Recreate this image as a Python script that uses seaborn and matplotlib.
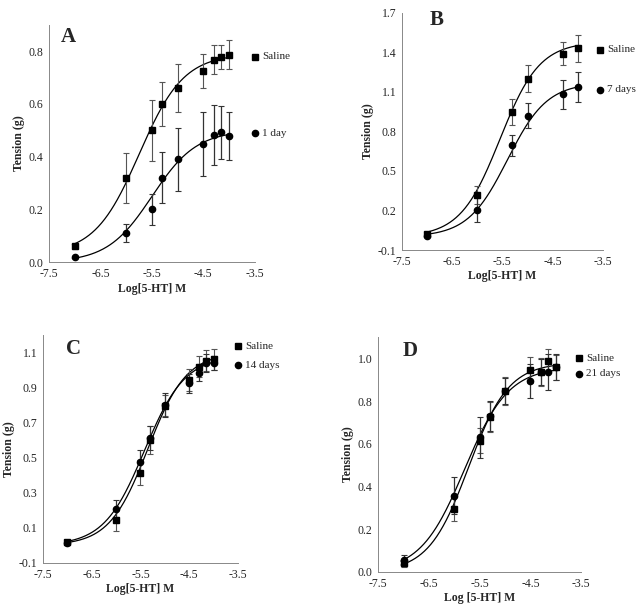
import matplotlib
matplotlib.use("Agg")
import matplotlib.pyplot as plt
import seaborn as sns
import numpy as np
import pandas as pd

# log molar concentrations of 5-HT
log_a = [-7.0, -6.0, -5.5, -5.3, -5.0, -4.5, -4.3, -4.15, -4.0]
log_b = [-7.0, -6.0, -5.3, -5.0, -4.3, -4.0]

# Panel A
a_saline = [0.06, 0.32, 0.50, 0.60, 0.66, 0.725, 0.767, 0.778, 0.786]
a_saline_err = [0.01, 0.095, 0.115, 0.085, 0.09, 0.065, 0.055, 0.045, 0.055]
a_treat = [0.02, 0.11, 0.20, 0.32, 0.39, 0.448, 0.483, 0.493, 0.479]
a_treat_err = [0.0, 0.035, 0.06, 0.097, 0.12, 0.12, 0.115, 0.10, 0.09]

# Panel B
b_saline = [0.02, 0.318, 0.947, 1.20, 1.39, 1.43]
b_saline_err = [0.01, 0.07, 0.10, 0.10, 0.09, 0.10]
b_treat = [0.01, 0.204, 0.694, 0.92, 1.08, 1.137]
b_treat_err = [0.01, 0.09, 0.08, 0.095, 0.11, 0.115]

# Panel C
c_saline = [0.018, 0.143, 0.416, 0.60, 0.796, 0.944, 1.02, 1.054, 1.063]
c_saline_err = [0.01, 0.06, 0.07, 0.08, 0.06, 0.065, 0.06, 0.06, 0.06]
c_treat = [0.014, 0.21, 0.477, 0.612, 0.80, 0.925, 0.986, 1.04, 1.043]
c_treat_err = [0.01, 0.05, 0.07, 0.07, 0.07, 0.055, 0.05, 0.05, 0.04]

# Panel D
d_saline = [0.042, 0.294, 0.615, 0.724, 0.846, 0.945, 0.935, 0.99, 0.958]
d_saline_err = [0.02, 0.055, 0.06, 0.07, 0.065, 0.06, 0.065, 0.055, 0.06]
d_treat = [0.055, 0.358, 0.63, 0.732, 0.846, 0.896, 0.935, 0.938, 0.96]
d_treat_err = [0.025, 0.085, 0.095, 0.07, 0.06, 0.08, 0.06, 0.085, 0.06]

# sigmoid fit parameters (bottom, top, logEC50, hill)
fit_a = [(0.03, 0.79, -5.75, 1.0), (0.0, 0.50, -5.5, 1.0)]
fit_b = [(0.0, 1.48, -5.55, 1.1), (0.0, 1.17, -5.4, 1.1)]
fit_c = [(0.0, 1.10, -5.35, 1.1), (0.0, 1.08, -5.42, 1.05)]
fit_d = [(0.0, 0.98, -5.72, 1.1), (0.0, 0.96, -5.8, 1.0)]

treat_labels = ["1 day", "7 days", "14 days", "21 days"]

sns.set_style("white")
plt.rcParams["font.family"] = ["Liberation Serif", "DejaVu Serif"]


def hill(x, bottom, top, ec50, slope):
    return bottom + (top - bottom) / (1 + 10 ** ((ec50 - x) * slope))


fig = plt.figure(figsize=(6.4, 6.07), dpi=100)

panels = [
    # letter, rect, x, saline, err, treat, err, fits, ylim, yticks, xlabel,
    # letter pos, legend y (saline, treat), legend x
    ("A", [0.077, 0.568, 0.321, 0.391], log_a, a_saline, a_saline_err, a_treat, a_treat_err,
     fit_a, (0.0, 0.9), [0.0, 0.2, 0.4, 0.6, 0.8], "Log[5-HT] M", (0.055, 0.95), (0.865, 0.544), 1.0),
    ("B", [0.628, 0.588, 0.314, 0.391], log_b, b_saline, b_saline_err, b_treat, b_treat_err,
     fit_b, (-0.1, 1.7), [-0.1, 0.2, 0.5, 0.8, 1.1, 1.4, 1.7], "Log[5-HT] M", (0.14, 0.97), (0.844, 0.675), 0.985),
    ("C", [0.067, 0.0725, 0.305, 0.3755], log_a, c_saline, c_saline_err, c_treat, c_treat_err,
     fit_c, (-0.1, 1.2), [-0.1, 0.1, 0.3, 0.5, 0.7, 0.9, 1.1], "Log[5-HT] M", (0.12, 0.94), (0.952, 0.868), 1.0),
    ("D", [0.591, 0.0577, 0.317, 0.387], log_a, d_saline, d_saline_err, d_treat, d_treat_err,
     fit_d, (0.0, 1.1), [0.0, 0.2, 0.4, 0.6, 0.8, 1.0], "Log [5-HT] M", (0.12, 0.94), (0.91, 0.843), 0.99),
]

for i, (letter, rect, x, sal, sal_err, trt, trt_err, fits, ylim, yticks, xlabel,
        letter_pos, leg_y, leg_x) in enumerate(panels):
    ax = fig.add_axes(rect)

    # fitted curves
    xs = np.linspace(-7.05, -4.0, 200)
    for p in fits:
        df = pd.DataFrame({"x": xs, "y": hill(xs, *p)})
        sns.lineplot(data=df, x="x", y="y", ax=ax, color="black", lw=0.9)

    ax.errorbar(x, sal, yerr=sal_err, fmt="s", color="black", ms=5,
                ecolor="#555555", elinewidth=0.8, capsize=2.5, capthick=0.8)
    ax.errorbar(x, trt, yerr=trt_err, fmt="o", color="black", ms=4.5,
                ecolor="#333333", elinewidth=0.9, capsize=2.5, capthick=0.8)

    ax.set_xlim(-7.5, -3.5)
    ax.set_ylim(*ylim)
    ax.set_xticks([-7.5, -6.5, -5.5, -4.5, -3.5])
    ax.set_xticklabels(["-7.5", "-6.5", "-5.5", "-4.5", "-3.5"])
    ax.set_yticks(yticks)
    ax.set_yticklabels([f"{v:.1f}" for v in yticks])
    ax.tick_params(axis="x", labelsize=8.5, length=0, pad=4)
    ax.tick_params(axis="y", labelsize=8.5, length=0, pad=4)
    ax.set_xlabel(xlabel, fontsize=8.5, fontweight="bold", labelpad=2)
    ax.set_ylabel("Tension (g)", fontsize=8.5, fontweight="bold", labelpad=3)
    for s in ["top", "right"]:
        ax.spines[s].set_visible(False)
    for s in ["left", "bottom"]:
        ax.spines[s].set_color("#888888")
        ax.spines[s].set_linewidth(0.7)

    ax.text(letter_pos[0], letter_pos[1], letter, transform=ax.transAxes,
            fontsize=15, fontweight="bold", va="center", ha="left")

    # labels beside the curves
    ax.plot([leg_x], [leg_y[0]], "s", color="black", ms=4.5,
            transform=ax.transAxes, clip_on=False)
    ax.text(leg_x + 0.035, leg_y[0], "Saline", transform=ax.transAxes,
            fontsize=8, va="center", ha="left")
    ax.plot([leg_x], [leg_y[1]], "o", color="black", ms=4.5,
            transform=ax.transAxes, clip_on=False)
    ax.text(leg_x + 0.035, leg_y[1], treat_labels[i], transform=ax.transAxes,
            fontsize=8, va="center", ha="left")

fig.savefig("out.png", dpi=100)
